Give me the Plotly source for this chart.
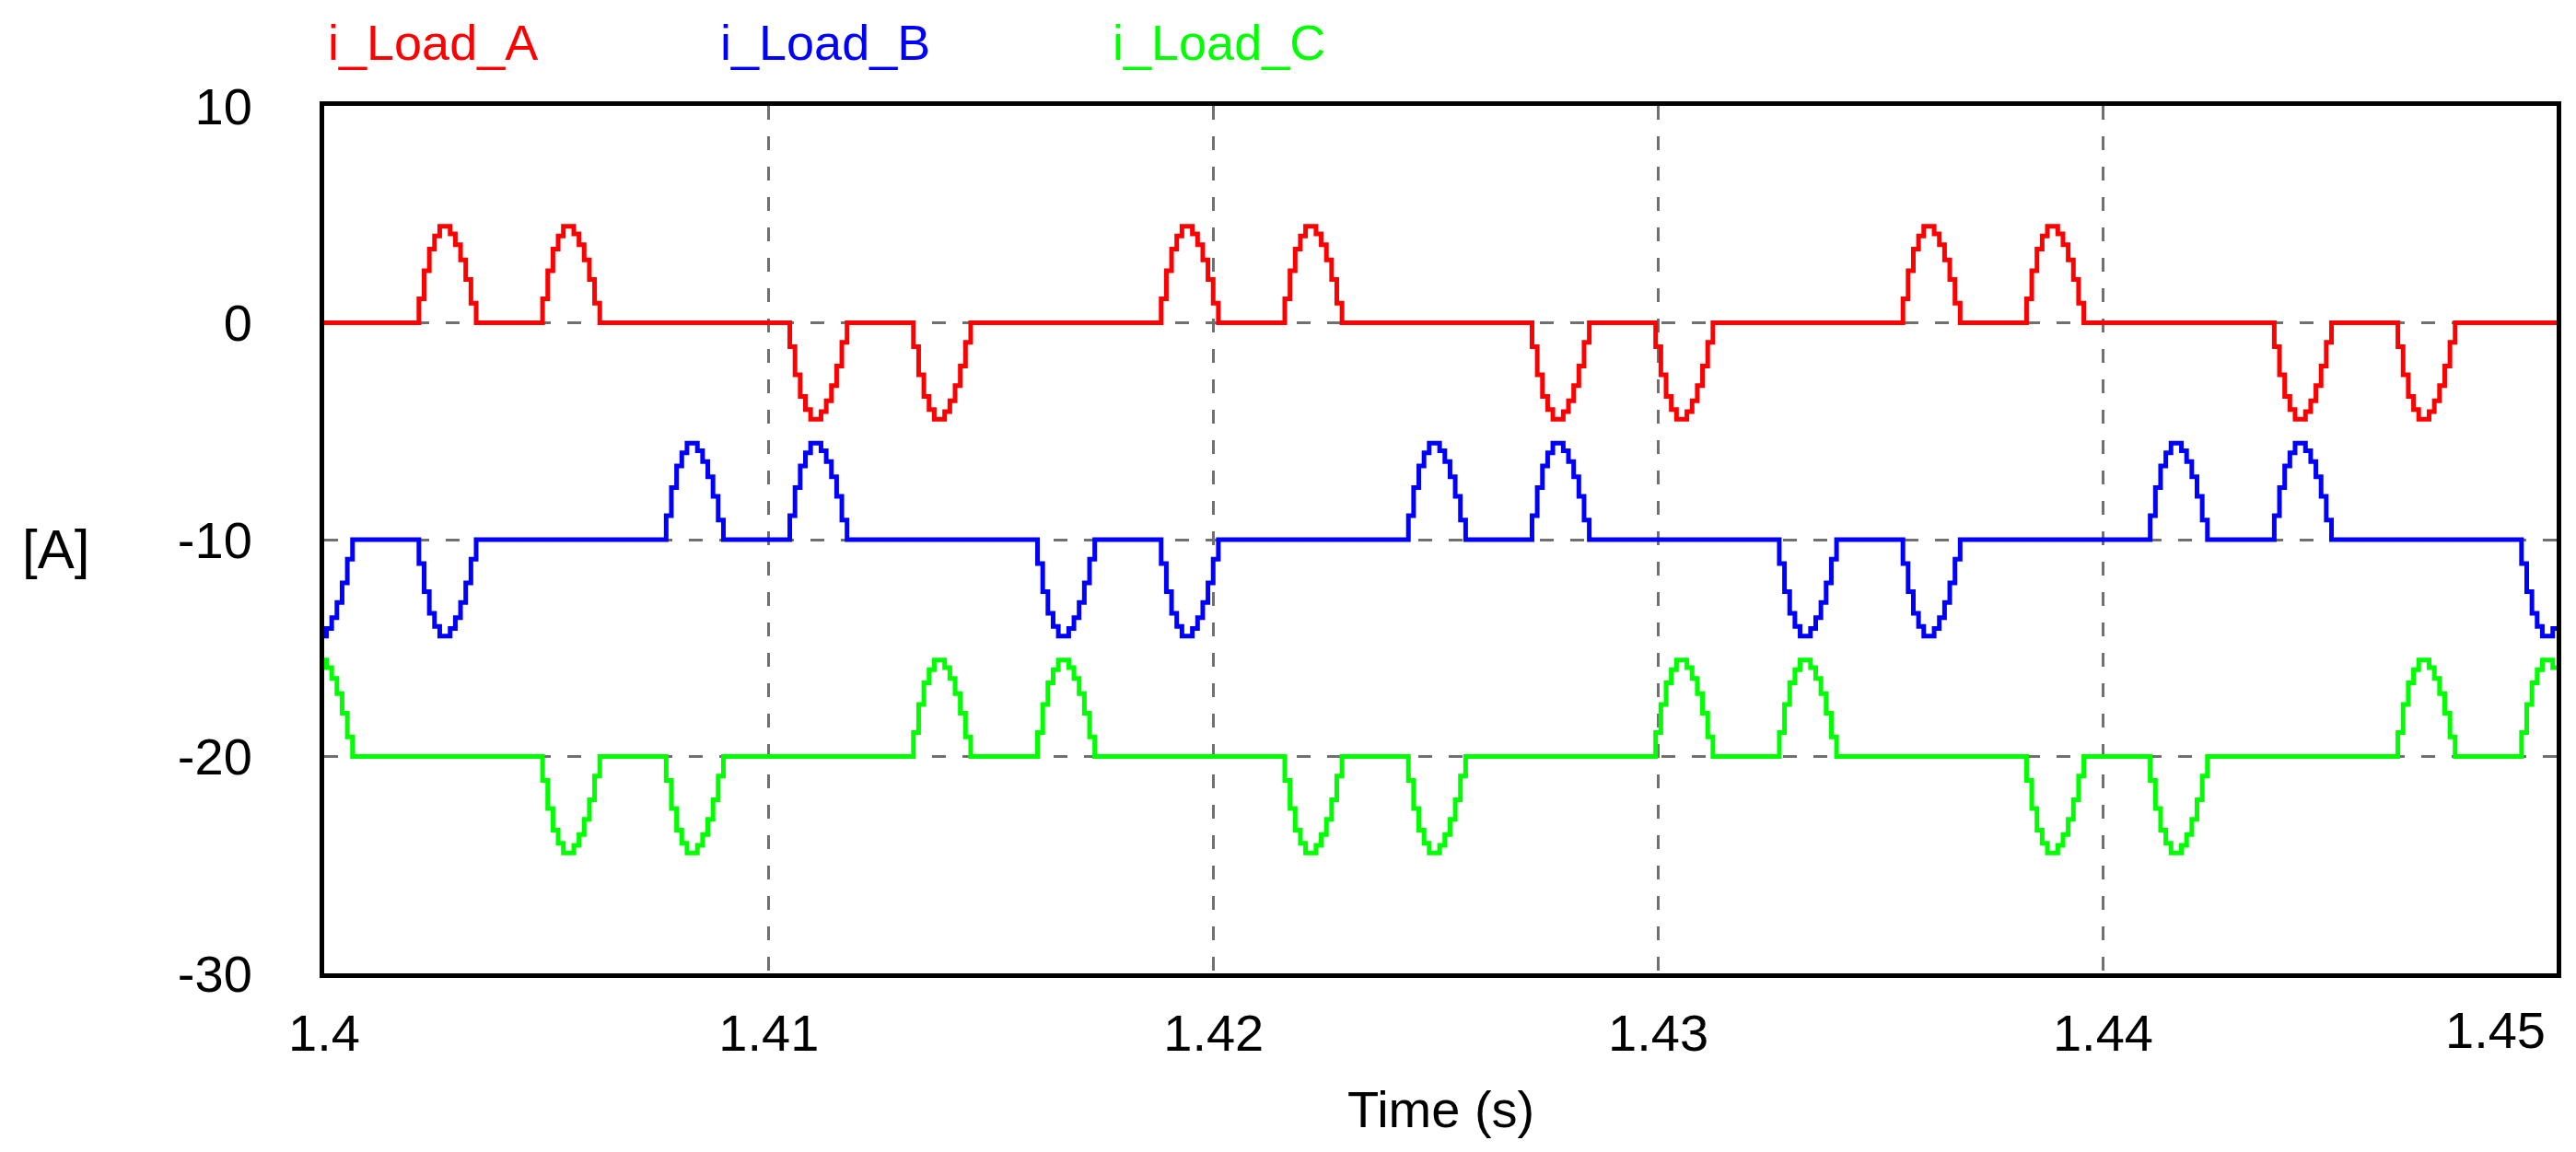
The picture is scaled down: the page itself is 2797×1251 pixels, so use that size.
import plotly.graph_objects as go

# ---- data ----
T0 = 1.4            # s, start of window
T_END_MS = 50.2     # ms after T0, end of window

# pulse start times (ms after 1.4 s)
A_POS_MS = [2.13, 4.91, 18.82, 21.60, 35.50, 38.28]
A_NEG_MS = [10.47, 13.25, 27.16, 29.94, 43.85, 46.63]
B_POS_MS = [7.69, 10.47, 24.38, 27.16, 41.06, 43.85]
B_NEG_MS = [-0.65, 2.13, 16.04, 18.82, 32.72, 35.50, 49.41]
C_POS_MS = [-0.65, 13.25, 16.04, 29.94, 32.72, 46.63, 49.41]
C_NEG_MS = [4.91, 7.69, 21.60, 24.38, 38.28, 41.06]

# staircase levels of one current pulse (A), sampled every SAMPLE_MS
PULSE_LEVELS = [1.1, 2.4, 3.4, 4.0, 4.45, 4.45, 4.1, 3.6, 2.9, 2.0, 0.9]
SAMPLE_MS = 0.117

OFFSETS = [0, -10, -20]
NAMES = ["i_Load_A", "i_Load_B", "i_Load_C"]
COLORS = ["#FF0000", "#0000FF", "#00FF00"]
X_TICKS = [1.4, 1.41, 1.42, 1.43, 1.44]
Y_TICKS = [10, 0, -10, -20, -30]
Y_TICKTEXT = ["10", "0", "-10", "-20", "-30"]


def build_series(pos, neg, offset):
    ev = []
    for sign, starts in ((1, pos), (-1, neg)):
        for s in starts:
            for k, lv in enumerate(PULSE_LEVELS):
                ev.append((s + k * SAMPLE_MS, sign * lv))
            ev.append((s + len(PULSE_LEVELS) * SAMPLE_MS, 0.0))
    ev.sort()
    v0 = 0.0
    for t, v in ev:
        if t <= 0:
            v0 = v
    xs, ys = [T0], [v0 + offset]
    last = v0
    for t, v in ev:
        if 0 < t < T_END_MS:
            xs.append(T0 + t / 1000.0)
            ys.append(v + offset)
            last = v
    xs.append(T0 + T_END_MS / 1000.0)
    ys.append(last + offset)
    return xs, ys


series = [
    build_series(A_POS_MS, A_NEG_MS, OFFSETS[0]),
    build_series(B_POS_MS, B_NEG_MS, OFFSETS[1]),
    build_series(C_POS_MS, C_NEG_MS, OFFSETS[2]),
]

fig = go.Figure()
for (xs, ys), name, col in zip(series, NAMES, COLORS):
    fig.add_trace(go.Scatter(x=xs, y=ys, mode="lines", name=name,
                             line=dict(color=col, width=5, shape="hv"),
                             showlegend=False))

FONT = "Liberation Sans, Arial, sans-serif"
W, H = 2797, 1251
L, R, T, B = 344, 29, 107, 202

fig.update_layout(
    width=W, height=H,
    margin=dict(l=L, r=R, t=T, b=B),
    paper_bgcolor="white", plot_bgcolor="white",
    font=dict(family=FONT, size=56, color="black"),
)
fig.update_xaxes(
    range=[T0, T0 + T_END_MS / 1000.0],
    tickvals=X_TICKS, ticktext=[str(v) for v in X_TICKS],
    showline=True, mirror=True, linecolor="black", linewidth=5,
    showgrid=True, gridcolor="#707070", gridwidth=3, griddash="15px,18px",
    zeroline=False, ticks="", ticklabelstandoff=12,
    tickfont=dict(size=56, family=FONT),
)
fig.update_yaxes(
    range=[-30, 10],
    tickvals=Y_TICKS, ticktext=Y_TICKTEXT,
    showline=True, mirror=True, linecolor="black", linewidth=5,
    showgrid=True, gridcolor="#707070", gridwidth=3, griddash="15px,18px",
    zeroline=False, ticks="", ticklabelstandoff=62,
    tickfont=dict(size=56, family=FONT),
)

pw = W - L - R
ph = H - T - B
legend_x_px = [346, 772, 1198]
for name, col, px in zip(NAMES, COLORS, legend_x_px):
    fig.add_annotation(text=name, xref="paper", yref="paper",
                       x=(px - L) / pw, y=1 + (T - 38) / ph,
                       xanchor="left", yanchor="middle", showarrow=False,
                       font=dict(color=col, size=54, family=FONT))

fig.add_annotation(text="[A]", xref="paper", yref="paper",
                   x=(52 - L) / pw, y=1 - (588 - T) / ph,
                   xanchor="center", yanchor="middle", showarrow=False,
                   font=dict(size=60, family=FONT))
fig.add_annotation(text="Time (s)", xref="paper", yref="paper",
                   x=(1556 - L) / pw, y=1 - (1196 - T) / ph,
                   xanchor="center", yanchor="middle", showarrow=False,
                   font=dict(size=56, family=FONT))
fig.add_annotation(text="1.45", xref="x", yref="paper",
                   x=1.45, y=1 - (1110 - T) / ph,
                   xanchor="right", yanchor="middle", showarrow=False,
                   font=dict(size=56, family=FONT))

fig.write_html("out.html")
